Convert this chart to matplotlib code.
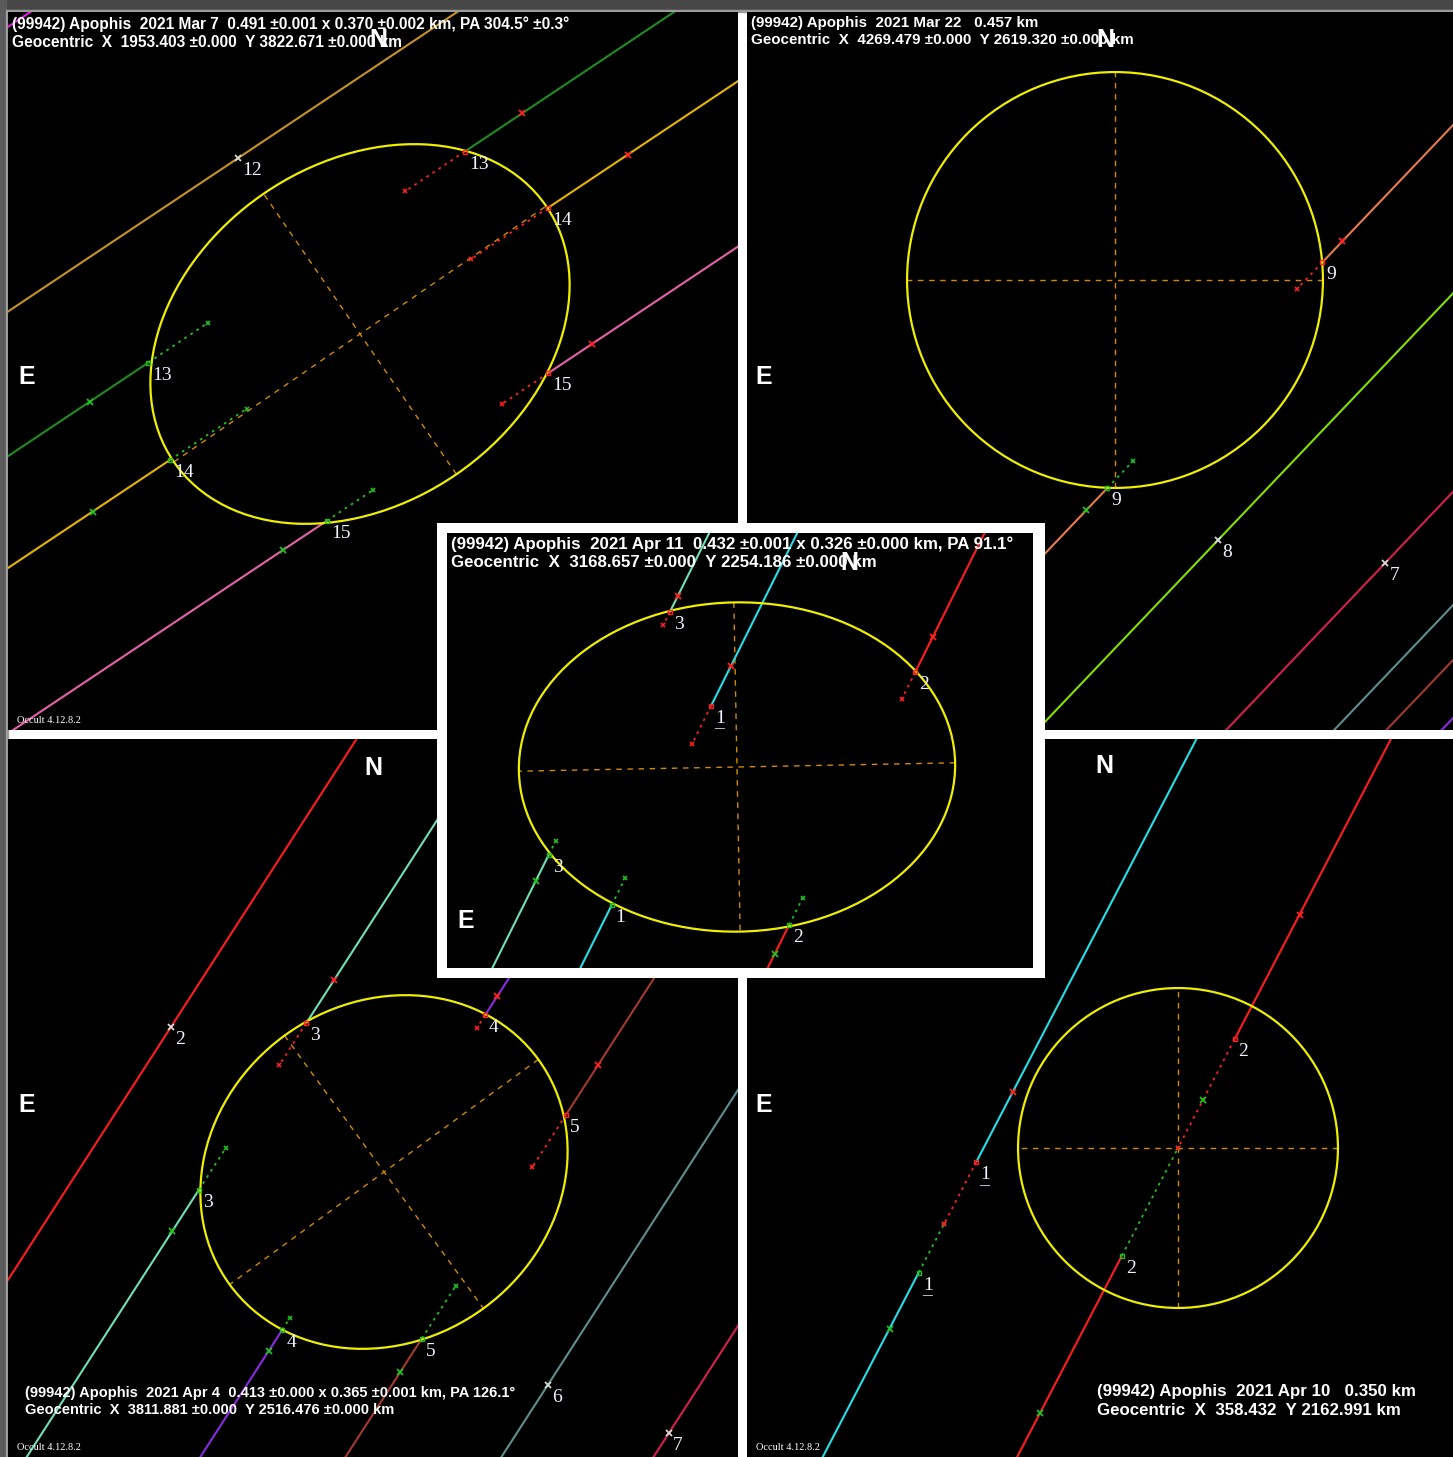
import numpy as np
import matplotlib.pyplot as plt
from matplotlib.patches import Ellipse, Rectangle

W, H, DPI = 1453, 1457, 100

# ---- 2021 Mar 7 ----
mar7_title = "(99942) Apophis  2021 Mar 7  0.491 ±0.001 x 0.370 ±0.002 km, PA 304.5° ±0.3°"
mar7_geo = "Geocentric  X  1953.403 ±0.000  Y 3822.671 ±0.000 km"
mar7_shape = (0.491, 0.370, 304.5)          # major km, minor km, PA deg
mar7_track = 33.7                           # chord direction, deg
mar7_ids = [12, 13, 14, 15, 16]
mar7_offset = [0.2326, 0.1018, 0.0007, -0.1489, 0.490]
mar7_lo = [None, -0.2086, -0.2478, -0.1427, None]
mar7_hi = [None, 0.2048, 0.2460, 0.1465, None]
mar7_dots = [(0, 0), (0.078, 0.078), (0.100, 0.100), (0.060, 0.060), (0, 0)]
mar7_ticks = [[-0.004], [-0.285, 0.280], [-0.349, 0.350], [-0.200, 0.204], []]

# ---- 2021 Mar 22 ----
mar22_title = "(99942) Apophis  2021 Mar 22   0.457 km"
mar22_geo = "Geocentric  X  4269.479 ±0.000  Y 2619.320 ±0.000 km"
mar22_shape = (0.457, 0.457, 0.0)
mar22_track = 46.4
mar22_ids = [9, 8, 7, 6, 5, 4]
mar22_offset = [-0.1516, -0.2791, -0.4295, -0.5154, -0.557, -0.601]
mar22_lo = [-0.1715, None, None, None, None, None]
mar22_hi = [0.1713, None, None, None, None, None]
mar22_dots = [(0.041, 0.041), (0, 0), (0, 0), (0, 0), (0, 0), (0, 0)]
mar22_ticks = [[-0.205, 0.203], [-0.1286], [-0.020], [], [], []]

# ---- 2021 Apr 4 ----
apr4_title = "(99942) Apophis  2021 Apr 4  0.413 ±0.000 x 0.365 ±0.001 km, PA 126.1°"
apr4_geo = "Geocentric  X  3811.881 ±0.000  Y 2516.476 ±0.000 km"
apr4_shape = (0.413, 0.365, 126.1)
apr4_track = 57.2
apr4_ids = [2, 3, 4, 5, 6, 7]
apr4_offset = [0.2785, 0.1578, 0.0, -0.1319, -0.2736, -0.4118]
apr4_lo = [None, -0.1245, -0.2032, -0.1293, None, None]
apr4_hi = [None, 0.0898, 0.2017, 0.1588, None, None]
apr4_dots = [(0, 0), (0.054, 0.054), (0.016, 0.016), (0.068, 0.068), (0, 0), (0, 0)]
apr4_ticks = [[0.007], [-0.178, 0.145], [-0.230, 0.226], [-0.172, 0.222], [-0.0977], [-0.0706]]

# ---- 2021 Apr 11 ----
apr11_title = "(99942) Apophis  2021 Apr 11  0.432 ±0.001 x 0.326 ±0.000 km, PA 91.1°"
apr11_geo = "Geocentric  X  3168.657 ±0.000  Y 2254.186 ±0.000 km"
apr11_shape = (0.432, 0.326, 91.1)
apr11_track = 63.5
apr11_ids = [1, 2, 3]
apr11_offset = [0.050, -0.116, 0.128]
apr11_lo = [-0.178, -0.117, -0.161]
apr11_hi = [0.043, 0.163, 0.108]
apr11_dots = [(0.030, 0.043), (0.030, 0.030), (0.015, 0.015)]
apr11_ticks = [[0.087], [-0.149, 0.202], [-0.190, 0.125]]
apr11_underlined = [(1, "hi")]

# ---- 2021 Apr 10 ----
apr10_title = "(99942) Apophis  2021 Apr 10   0.350 km"
apr10_geo = "Geocentric  X  358.432  Y 2162.991 km"
apr10_shape = (0.350, 0.350, 0.0)
apr10_track = 62.5
apr10_ids = [1, 2]
apr10_offset = [0.1887, 0.0]
apr10_lo = [-0.2518, -0.133]
apr10_hi = [-0.1152, 0.134]
apr10_dots = [(0.060, 0.077), (0.133, 0.134)]
apr10_ticks = [[-0.321, -0.0295], [-0.327, 0.059, 0.288]]
apr10_underlined = [(1, "lo"), (1, "hi")]

# observer colours
CHORD_COLOURS = {1: "#22e0ea", 2: "#ff1c1c", 3: "#70e2b2", 4: "#8a2be2", 5: "#a23a2e",
                 6: "#5e8e8e", 7: "#d4204a", 8: "#84e000", 9: "#e87a4c", 12: "#c8922a",
                 13: "#1e8c1e", 14: "#e8b400", 15: "#e862a8", 16: "#e020e0"}
YELLOW = "#eeee00"
AXIS_C = "#d08a00"
RED = "#ff2020"
GREEN = "#20c020"
LABEL_C = "#eef3ff"
TITLE_FONT = ["Liberation Sans Narrow", "DejaVu Sans Condensed", "Liberation Sans"]
NUM_FONT = ["Liberation Serif", "DejaVu Serif"]

fig = plt.figure(figsize=(W / DPI, H / DPI), dpi=DPI, facecolor="white")


def px_rect(x0, y0, x1, y1):
    return [x0 / W, 1 - y1 / H, (x1 - x0) / W, (y1 - y0) / H]


# window chrome along the top and left edge
chrome = fig.add_axes([0, 0, 1, 1])
chrome.set_xlim(0, W)
chrome.set_ylim(H, 0)
chrome.axis("off")
chrome.add_patch(Rectangle((0, 0), W, 10, color="#474747"))
chrome.add_patch(Rectangle((0, 10), W, 2, color="#9c9c9c"))
chrome.add_patch(Rectangle((0, 0), 6, H, color="#5a5a5a"))
chrome.add_patch(Rectangle((6, 10), 2, H, color="#9c9c9c"))


def make_axes(rect, centre, scale):
    x0, y0, x1, y1 = rect
    cx, cy = centre
    ax = fig.add_axes(px_rect(*rect))
    ax.set_facecolor("black")
    ax.set_xlim((x0 - cx) / scale, (x1 - cx) / scale)
    ax.set_ylim((cy - y1) / scale, (cy - y0) / scale)
    ax.set_xticks([])
    ax.set_yticks([])
    for sp in ax.spines.values():
        sp.set_visible(False)
    return ax


def label(ax, xy, text, underline=False):
    ax.annotate(text, xy, xytext=(4, -4), textcoords="offset pixels", ha="left", va="top",
                color=LABEL_C, fontsize=14, family=NUM_FONT, zorder=6)
    if underline:
        ax.annotate("_", xy, xytext=(3, -9), textcoords="offset pixels", ha="left", va="top",
                    color=LABEL_C, fontsize=14, family=NUM_FONT, zorder=6)


def draw_panel(ax, shape, track, ids, offset, lo, hi, dots, ticks, underlined=()):
    major, minor, pa = shape
    ang = pa + 90
    ax.add_patch(Ellipse((0, 0), major, minor, angle=ang, fill=False, ec=YELLOW, lw=1.6, zorder=4))
    for length, a in [(major, ang), (minor, ang + 90)]:
        t = np.radians(a)
        h = length / 2
        ax.plot([-h * np.cos(t), h * np.cos(t)], [-h * np.sin(t), h * np.sin(t)],
                ls=(0, (4, 4)), color=AXIS_C, lw=1, zorder=2)

    th = np.radians(track)
    dv = np.array([np.cos(th), np.sin(th)])
    nv = np.array([-np.sin(th), np.cos(th)])

    def pt(v, u):
        return v * nv + u * dv

    far = 3.0
    for i, cid in enumerate(ids):
        v, c = offset[i], CHORD_COLOURS[cid]
        segs = [(-far, far)] if lo[i] is None else [(-far, lo[i]), (hi[i], far)]
        for u0, u1 in segs:
            p0, p1 = pt(v, u0), pt(v, u1)
            ax.plot([p0[0], p1[0]], [p0[1], p1[1]], color=c, lw=1.5, zorder=3,
                    solid_capstyle="butt")
        for u in ticks[i]:
            if lo[i] is None:
                tc = "#d8d8d8"
            else:
                tc = RED if u > hi[i] else GREEN
            p = pt(v, u)
            ax.plot(p[0], p[1], marker="x", ms=4, mew=1.3, color=tc, zorder=5)
        if lo[i] is None:
            if ticks[i]:
                label(ax, pt(v, ticks[i][0]), str(cid))
            continue
        # dotted residual segments from each event inward
        for u_end, length, sign, dc in [(lo[i], dots[i][0], 1, GREEN), (hi[i], dots[i][1], -1, RED)]:
            p0, p1 = pt(v, u_end), pt(v, u_end + sign * length)
            ax.plot([p0[0], p1[0]], [p0[1], p1[1]], ls=(0, (1.5, 2.5)), color=dc, lw=1.3, zorder=3)
            ax.plot(p1[0], p1[1], marker="x", ms=3, mew=1.2, color=dc, zorder=3)
            ax.plot(p0[0], p0[1], marker="s", ms=3, mfc="none", mec=dc, mew=1, zorder=5)
        label(ax, pt(v, lo[i]), str(cid), (cid, "lo") in underlined)
        label(ax, pt(v, hi[i]), str(cid), (cid, "hi") in underlined)


def compass(ax, e_xy, n_xy):
    kw = dict(transform=ax.transAxes, ha="center", va="center", color="white",
              fontsize=18, fontweight="bold", family=["Liberation Sans", "DejaVu Sans"], zorder=7)
    ax.text(*e_xy, "E", **kw)
    ax.text(*n_xy, "N", **kw)


def titles(ax, lines, xy, off, va, size):
    ax.annotate("\n".join(lines), xy, xycoords="axes fraction", xytext=off,
                textcoords="offset pixels", ha="left", va=va, color="white", fontsize=size,
                fontweight="bold", family=TITLE_FONT, linespacing=1.3, zorder=8)


def version(ax):
    ax.annotate("Occult 4.12.8.2", (0, 0), xycoords="axes fraction", xytext=(9, 5),
                textcoords="offset pixels", ha="left", va="bottom", color="white",
                fontsize=7.5, family=NUM_FONT, zorder=8)


# top left: Mar 7
ax = make_axes((8, 12, 738, 730), (360, 334), 920)
draw_panel(ax, mar7_shape, mar7_track, mar7_ids, mar7_offset, mar7_lo, mar7_hi, mar7_dots, mar7_ticks)
compass(ax, (0.026, 0.492), (0.507, 0.961))
titles(ax, [mar7_title, mar7_geo], (0, 1), (4, -4), "top", 11.2)
version(ax)

# top right: Mar 22
ax = make_axes((747, 12, 1453, 730), (1115, 280), 910)
draw_panel(ax, mar22_shape, mar22_track, mar22_ids, mar22_offset, mar22_lo, mar22_hi, mar22_dots, mar22_ticks)
compass(ax, (0.024, 0.492), (0.507, 0.961))
titles(ax, [mar22_title, mar22_geo], (0, 1), (4, -4), "top", 10.9)

# bottom left: Apr 4
ax = make_axes((8, 739, 738, 1457), (384, 1172), 925)
draw_panel(ax, apr4_shape, apr4_track, apr4_ids, apr4_offset, apr4_lo, apr4_hi, apr4_dots, apr4_ticks)
compass(ax, (0.026, 0.49), (0.501, 0.96))
titles(ax, [apr4_title, apr4_geo], (0, 0), (17, 40), "bottom", 10.5)
version(ax)

# bottom right: Apr 10
ax = make_axes((747, 739, 1453, 1457), (1178, 1148), 914)
draw_panel(ax, apr10_shape, apr10_track, apr10_ids, apr10_offset, apr10_lo, apr10_hi, apr10_dots,
           apr10_ticks, apr10_underlined)
compass(ax, (0.023, 0.49), (0.506, 0.963))
titles(ax, [apr10_title, apr10_geo], (0, 0), (350, 39), "bottom", 12.2)
version(ax)

# centre inset: Apr 11, on a white frame
frame = fig.add_axes(px_rect(437, 523, 1045, 978))
frame.set_facecolor("white")
frame.set_xticks([])
frame.set_yticks([])
for sp in frame.spines.values():
    sp.set_visible(False)
ax = make_axes((447, 533, 1033, 968), (737, 767), 1010)
draw_panel(ax, apr11_shape, apr11_track, apr11_ids, apr11_offset, apr11_lo, apr11_hi, apr11_dots,
           apr11_ticks, apr11_underlined)
compass(ax, (0.032, 0.108), (0.686, 0.931))
titles(ax, [apr11_title, apr11_geo], (0, 1), (4, -3), "top", 12.2)

fig.savefig("out.png", dpi=DPI, facecolor="white")
